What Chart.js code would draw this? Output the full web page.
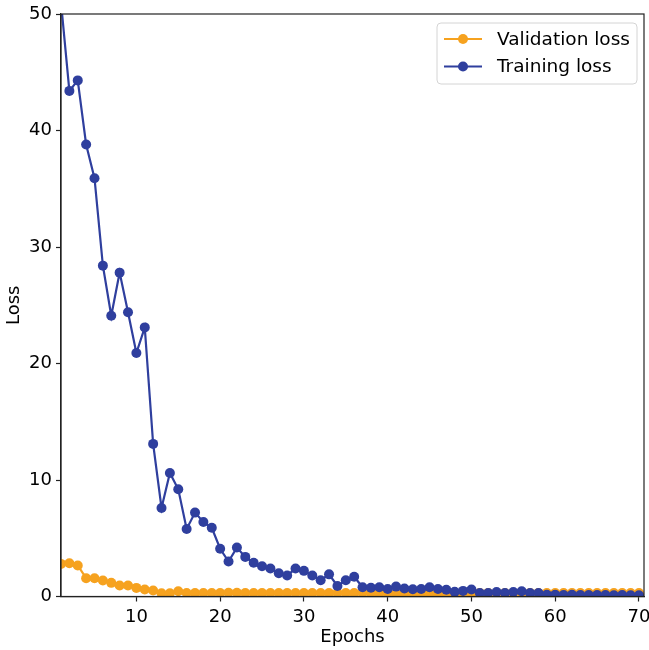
<!DOCTYPE html>
<html>
<head>
<meta charset="utf-8">
<script src="https://cdn.jsdelivr.net/npm/chart.js@4/dist/chart.umd.min.js"></script>
<style>
  html, body { margin: 0; padding: 0; background: #fff; }
  #wrap { width: 649px; height: 650px; position: relative; }
</style>
</head>
<body>
<div id="wrap"><canvas id="c" width="649" height="650"></canvas></div>
<script>
const epochs = Array.from({length: 70}, (_, i) => i + 1);

const trainingLoss = [
  51, 43.4, 44.3, 38.8, 35.9, 28.4, 24.1, 27.8, 24.4, 20.9,
  23.1, 13.1, 7.6, 10.6, 9.2, 5.8, 7.2, 6.4, 5.9, 4.1,
  3.0, 4.2, 3.4, 2.9, 2.6, 2.4, 2.0, 1.8, 2.4, 2.2,
  1.8, 1.4, 1.9, 0.9, 1.4, 1.7, 0.8, 0.75, 0.8, 0.65,
  0.85, 0.68, 0.62, 0.65, 0.8, 0.65, 0.58, 0.4, 0.48, 0.6,
  0.3, 0.3, 0.38, 0.3, 0.38, 0.45, 0.3, 0.3, 0.15, 0.14,
  0.13, 0.14, 0.12, 0.13, 0.12, 0.12, 0.11, 0.12, 0.11, 0.11
];

const validationLoss = [
  2.8, 2.86, 2.66, 1.57, 1.57, 1.37, 1.17, 0.94, 0.94, 0.74,
  0.6, 0.51, 0.28, 0.28, 0.45, 0.3, 0.3, 0.3, 0.3, 0.3,
  0.32, 0.32, 0.3, 0.3, 0.3, 0.3, 0.3, 0.3, 0.3, 0.3,
  0.3, 0.3, 0.3, 0.3, 0.3, 0.3, 0.3, 0.3, 0.28, 0.28,
  0.26, 0.25, 0.25, 0.25, 0.25, 0.25, 0.25, 0.25, 0.25, 0.25,
  0.3, 0.3, 0.3, 0.3, 0.3, 0.3, 0.3, 0.3, 0.3, 0.3,
  0.3, 0.3, 0.3, 0.3, 0.3, 0.3, 0.3, 0.3, 0.3, 0.3
];

const xTickValues = [10, 20, 30, 40, 50, 60, 70];
const yTickValues = [0, 10, 20, 30, 40, 50];
const seriesNames = ['Validation loss', 'Training loss'];
const seriesColors = ['#F6A21F', '#2F3F9E'];

const FONT = '"DejaVu Sans", sans-serif';

const framePlugin = {
  id: 'frame',
  afterDatasetsDraw(chart) {
    const {ctx, chartArea: a} = chart;
    ctx.save();
    ctx.strokeStyle = '#222';
    ctx.lineWidth = 1.2;
    ctx.strokeRect(a.left, a.top, a.right - a.left, a.bottom - a.top);
    ctx.restore();
  }
};

const legendPlugin = {
  id: 'boxLegend',
  afterDraw(chart) {
    const {ctx, chartArea: a} = chart;
    const bw = 200, bh = 61;
    const bx = a.right - 7 - bw, by = a.top + 9;
    ctx.save();
    ctx.beginPath();
    ctx.roundRect(bx, by, bw, bh, 4);
    ctx.fillStyle = 'rgba(255,255,255,0.85)';
    ctx.fill();
    ctx.strokeStyle = '#d4d4d4';
    ctx.lineWidth = 1;
    ctx.stroke();
    ctx.font = '18.5px ' + FONT;
    ctx.textBaseline = 'middle';
    ctx.textAlign = 'left';
    seriesNames.forEach((name, i) => {
      const y = by + 16 + i * 27.5;
      ctx.strokeStyle = seriesColors[i];
      ctx.lineWidth = 2.2;
      ctx.beginPath();
      ctx.moveTo(bx + 7, y);
      ctx.lineTo(bx + 45, y);
      ctx.stroke();
      ctx.fillStyle = seriesColors[i];
      ctx.beginPath();
      ctx.arc(bx + 26, y, 5, 0, Math.PI * 2);
      ctx.fill();
      ctx.fillStyle = '#000';
      ctx.fillText(name, bx + 60, y + 1);
    });
    ctx.restore();
  }
};

new Chart(document.getElementById('c'), {
  type: 'line',
  data: {
    labels: epochs,
    datasets: [
      {
        label: seriesNames[0],
        data: epochs.map((e, i) => ({x: e, y: validationLoss[i]})),
        borderColor: seriesColors[0],
        backgroundColor: seriesColors[0],
        borderWidth: 2.2,
        pointRadius: 5,
        pointBorderWidth: 0,
        pointHoverRadius: 5,
        tension: 0,
        clip: 0,
        order: 2
      },
      {
        label: seriesNames[1],
        data: epochs.map((e, i) => ({x: e, y: trainingLoss[i]})),
        borderColor: seriesColors[1],
        backgroundColor: seriesColors[1],
        borderWidth: 2.2,
        pointRadius: 5,
        pointBorderWidth: 0,
        pointHoverRadius: 5,
        tension: 0,
        clip: 0,
        order: 1
      }
    ]
  },
  options: {
    responsive: false,
    animation: false,
    devicePixelRatio: 1,
    layout: { padding: { top: 14, right: 4, left: 0, bottom: 0 } },
    plugins: {
      legend: { display: false },
      tooltip: { enabled: false }
    },
    scales: {
      x: {
        type: 'linear',
        min: 1,
        max: 70.6,
        afterFit(scale) {
          scale.height = 53.5;
          scale.paddingLeft = 0;
          scale.paddingRight = 0;
        },
        afterBuildTicks(scale) { scale.ticks = xTickValues.map(v => ({value: v})); },
        grid: { drawOnChartArea: false, drawTicks: true, tickLength: 5, color: '#222', tickWidth: 1.2 },
        border: { display: true, color: '#222', width: 1.2 },
        ticks: {
          padding: 5,
          color: '#000',
          maxRotation: 0,
          autoSkip: false,
          font: { family: FONT, size: 18 },
          callback: v => String(v)
        },
        title: {
          display: true,
          text: 'Epochs',
          color: '#000',
          font: { family: FONT, size: 18 },
          padding: { top: 0, bottom: 2 }
        }
      },
      y: {
        type: 'linear',
        min: 0,
        max: 50,
        afterFit(scale) {
          scale.width = 61;
          scale.paddingTop = 0;
          scale.paddingBottom = 0;
        },
        afterBuildTicks(scale) { scale.ticks = yTickValues.map(v => ({value: v})); },
        grid: { drawOnChartArea: false, drawTicks: true, tickLength: 5, color: '#222', tickWidth: 1.2 },
        border: { display: true, color: '#222', width: 1.2 },
        ticks: {
          padding: 4,
          color: '#000',
          autoSkip: false,
          font: { family: FONT, size: 18 },
          callback: v => String(v)
        },
        title: {
          display: true,
          text: 'Loss',
          color: '#000',
          font: { family: FONT, size: 18 },
          padding: { top: 4, bottom: 0 }
        }
      }
    }
  },
  plugins: [framePlugin, legendPlugin]
});
</script>
</body>
</html>
